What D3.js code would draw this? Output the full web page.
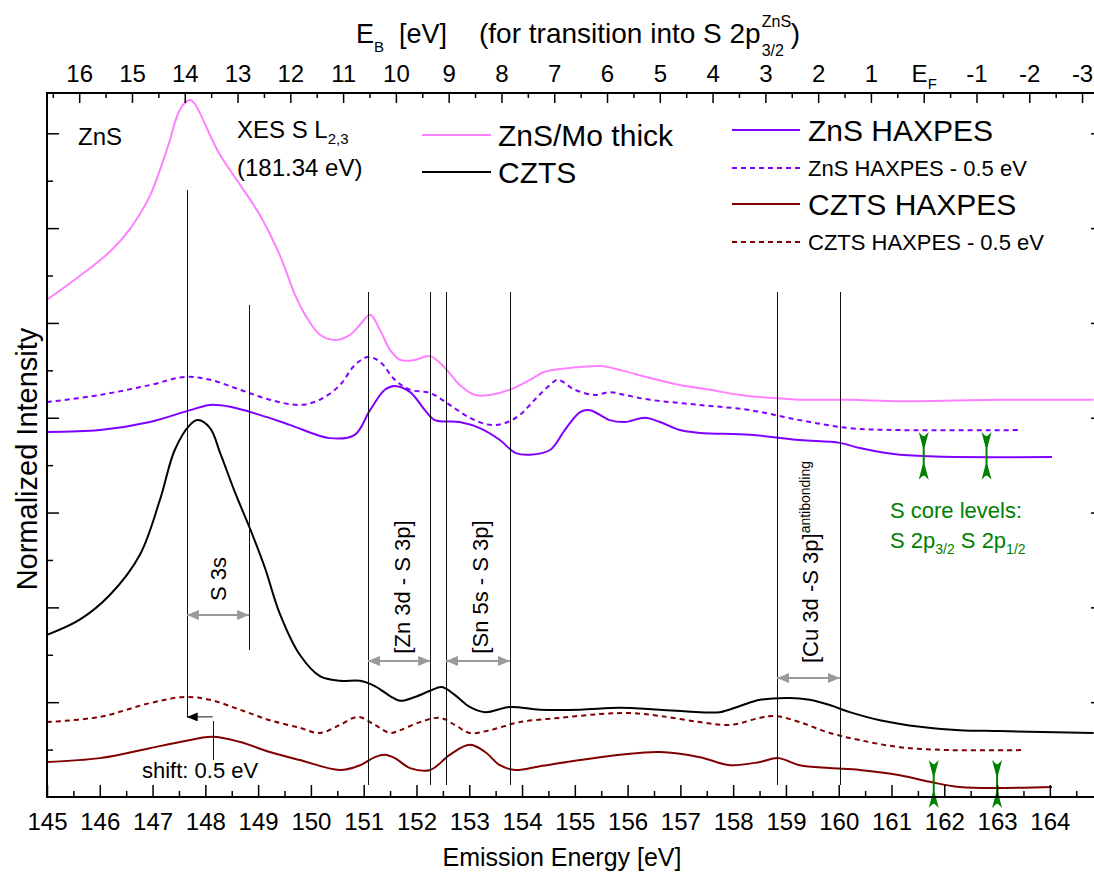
<!DOCTYPE html>
<html><head><meta charset="utf-8">
<script src="https://cdn.jsdelivr.net/npm/d3@7"></script>
<style>
body{margin:0;background:#fff}
svg{display:block}
text{font-family:"Liberation Sans",Arial,Helvetica,sans-serif;fill:#000}
</style>
</head><body>
<svg id="c" width="1094" height="873"></svg>
<script>
// ---------------- DATA ----------------
// [emission energy (eV), normalized intensity (arb., offset)]
const znsMoThick = [[145.00,10.49],[145.62,10.99],[146.19,11.50],[146.57,11.98],[146.95,12.68],[147.14,13.23],[147.33,13.86],[147.42,14.22],[147.52,14.50],[147.61,14.64],[147.71,14.70],[147.80,14.62],[147.90,14.42],[148.09,13.96],[148.28,13.54],[148.66,12.91],[149.03,12.28],[149.41,11.43],[149.70,10.59],[149.89,10.17],[150.17,9.75],[150.46,9.64],[150.74,9.75],[150.93,9.96],[151.12,10.17],[151.31,9.85],[151.50,9.43],[151.69,9.22],[151.97,9.22],[152.26,9.30],[152.54,9.05],[152.82,8.69],[153.11,8.48],[153.39,8.48],[153.77,8.59],[154.15,8.80],[154.43,8.97],[154.91,9.05],[155.48,9.09],[155.85,9.01],[156.42,8.84],[156.99,8.69],[157.56,8.59],[158.13,8.48],[158.70,8.42],[159.26,8.38],[160.21,8.38],[161.16,8.35],[163.05,8.38],[164.83,8.38]];

const znsHaxpesShift = [[145.00,8.33],[146.00,8.48],[146.95,8.69],[147.61,8.86],[148.09,8.80],[148.66,8.59],[149.22,8.38],[149.79,8.27],[150.17,8.38],[150.55,8.69],[150.83,9.11],[151.08,9.28],[151.31,9.18],[151.59,8.80],[151.88,8.59],[152.26,8.52],[152.63,8.27],[153.01,8.00],[153.39,7.85],[153.68,7.89],[153.96,8.06],[154.24,8.38],[154.53,8.69],[154.68,8.80],[155.00,8.59],[155.38,8.48],[155.66,8.54],[155.95,8.48],[156.42,8.38],[157.37,8.27],[158.32,8.16],[159.26,7.95],[160.21,7.78],[161.16,7.74],[163.43,7.74]];

const znsHaxpes = [[145.00,7.70],[146.00,7.74],[146.95,7.91],[147.71,8.16],[148.09,8.27],[148.47,8.23],[149.03,8.06],[149.60,7.85],[150.36,7.57],[150.83,7.64],[151.12,8.16],[151.40,8.59],[151.59,8.67],[151.88,8.54],[152.16,8.16],[152.35,7.95],[152.82,7.91],[153.20,7.78],[153.58,7.53],[153.87,7.26],[154.15,7.22],[154.53,7.32],[154.81,7.74],[155.10,8.12],[155.29,8.16],[155.66,7.95],[155.95,7.91],[156.33,8.00],[156.61,7.91],[156.99,7.74],[157.37,7.68],[158.32,7.64],[159.26,7.53],[160.02,7.47],[160.40,7.36],[161.16,7.22],[164.04,7.17]];

const czts = [[145.00,3.42],[145.62,3.74],[146.19,4.26],[146.76,5.11],[147.14,6.27],[147.42,7.32],[147.71,7.85],[147.86,7.95],[148.09,7.78],[148.28,7.26],[148.56,6.43],[148.85,5.65],[149.13,4.83],[149.41,3.87],[149.79,3.00],[150.17,2.55],[150.55,2.45],[150.93,2.45],[151.21,2.34],[151.50,2.13],[151.69,2.03],[151.97,2.11],[152.26,2.24],[152.48,2.32],[152.73,2.15],[153.01,1.90],[153.30,1.79],[153.77,1.90],[154.34,1.84],[155.10,1.84],[155.85,1.88],[156.61,1.84],[157.37,1.79],[157.75,1.79],[158.13,1.92],[158.51,2.05],[159.07,2.09],[159.45,2.05],[159.83,1.94],[160.21,1.79],[160.78,1.62],[161.54,1.48],[162.29,1.41],[163.05,1.39],[164.83,1.35]];

const cztsHaxpesShift = [[145.00,1.58],[146.00,1.69],[146.95,1.98],[147.61,2.11],[148.09,2.05],[148.66,1.84],[149.22,1.62],[149.79,1.46],[150.17,1.35],[150.55,1.52],[150.89,1.69],[151.21,1.52],[151.50,1.35],[151.69,1.41],[152.07,1.58],[152.44,1.67],[152.73,1.52],[153.01,1.35],[153.39,1.41],[153.96,1.58],[154.72,1.67],[155.48,1.75],[156.04,1.77],[156.61,1.71],[157.37,1.58],[157.94,1.52],[158.51,1.67],[158.79,1.71],[159.26,1.58],[159.83,1.35],[160.40,1.20],[161.16,1.05],[162.11,0.99],[163.53,0.99]];

const cztsHaxpes = [[145.00,0.74],[146.00,0.82],[146.95,1.03],[147.52,1.16],[148.14,1.27],[148.66,1.16],[149.22,0.95],[149.79,0.78],[150.55,0.57],[150.93,0.67],[151.21,0.84],[151.40,0.89],[151.59,0.82],[151.88,0.61],[152.26,0.57],[152.63,0.89],[153.01,1.10],[153.30,0.95],[153.58,0.67],[153.87,0.57],[154.34,0.65],[155.10,0.78],[155.85,0.89],[156.61,0.95],[157.37,0.84],[157.94,0.67],[158.51,0.74],[158.85,0.82],[159.26,0.67],[159.83,0.61],[160.40,0.57],[161.16,0.46],[161.73,0.32],[162.29,0.21],[164.04,0.21]];

const seriesNames = ["ZnS/Mo thick","CZTS","ZnS HAXPES","ZnS HAXPES - 0.5 eV","CZTS HAXPES","CZTS HAXPES - 0.5 eV"];

const bottomTicks = [145,146,147,148,149,150,151,152,153,154,155,156,157,158,159,160,161,162,163,164];
const topTicks = [16,15,14,13,12,11,10,9,8,7,6,5,4,3,2,1,0,-1,-2,-3];
const EB_REF = 161.61; // S 2p3/2 (ZnS) emission energy that maps to E_B = 0 (E_F)

// marker lines (emission energy) and their intensity extents
const featureLines = [[147.65,12.81,1.69],[148.83,10.38,3.10],[151.08,10.65,0.25],[152.26,10.65,0.25],[152.56,10.65,0.25],[153.77,10.65,0.25],[158.83,10.65,0.25],[160.02,10.65,0.25]];
const bracketArrows = [[147.65,148.83,3.84],[151.08,152.26,2.87],[152.56,153.77,2.87],[158.83,160.02,2.51]];
const shiftArrow = [148.14,147.65,1.69,0.78]; // from, to, y, bottom of tick
const coreLevelsZnS = [161.61,162.80];
const coreLevelsCZTS = [161.80,163.00];

// ---------------- CHART ----------------
const svg = d3.select("#c");
const m = {l:47, r:1100, t:93, b:797};
const x = d3.scaleLinear().domain([145,164.95]).range([m.l,m.r]);
const y = d3.scaleLinear().domain([0,14.85]).range([m.b,m.t]);
const xB = d3.scaleLinear().domain([EB_REF-145, EB_REF-164.95]).range([m.l,m.r]);

const FONT = '"Liberation Sans",Arial,Helvetica,sans-serif';
const PINK="#ff80ff", PURPLE="#8000ff", DRED="#800000", GREEN="#008000", GRAY="#9a9a9a";

const defs = svg.append("defs");
defs.append("marker").attr("id","ga").attr("viewBox","0 0 12 10").attr("refX",12).attr("refY",5)
  .attr("markerWidth",12).attr("markerHeight",10).attr("markerUnits","userSpaceOnUse").attr("orient","auto-start-reverse")
  .append("path").attr("d","M0,0L12,5L0,10Z").attr("fill",GRAY);
defs.append("marker").attr("id","ba").attr("viewBox","0 0 12 10").attr("refX",12).attr("refY",5)
  .attr("markerWidth",12).attr("markerHeight",9).attr("markerUnits","userSpaceOnUse").attr("orient","auto")
  .append("path").attr("d","M0,0L12,5L0,10Z").attr("fill","#000");

// series
const styles = [
  {data:znsMoThick, color:PINK, dash:null},
  {data:czts, color:"#000", dash:null},
  {data:znsHaxpes, color:PURPLE, dash:null},
  {data:znsHaxpesShift, color:PURPLE, dash:"5,4"},
  {data:cztsHaxpes, color:DRED, dash:null},
  {data:cztsHaxpesShift, color:DRED, dash:"5,4"}
];
const line = d3.line().x(d=>x(d[0])).y(d=>y(d[1])).curve(d3.curveCatmullRom.alpha(0.5));
const gLines = svg.append("g");
styles.forEach(s=>{
  gLines.append("path").datum(s.data).attr("d",line).attr("fill","none")
    .attr("stroke",s.color).attr("stroke-width",2).attr("stroke-dasharray",s.dash);
});

// feature vertical lines
svg.append("g").attr("shape-rendering","crispEdges").selectAll("line").data(featureLines).join("line")
  .attr("x1",d=>Math.round(x(d[0]))+0.5).attr("x2",d=>Math.round(x(d[0]))+0.5).attr("y1",d=>y(d[1])).attr("y2",d=>y(d[2]))
  .attr("stroke","#111").attr("stroke-width",1);

// gray double arrows
svg.append("g").selectAll("line").data(bracketArrows).join("line")
  .attr("x1",d=>x(d[0])).attr("x2",d=>x(d[1])).attr("y1",d=>y(d[2])).attr("y2",d=>y(d[2]))
  .attr("stroke",GRAY).attr("stroke-width",2)
  .attr("marker-start","url(#ga)").attr("marker-end","url(#ga)");

// shift arrow
svg.append("line").attr("x1",Math.round(x(shiftArrow[0]))+0.5).attr("x2",Math.round(x(shiftArrow[0]))+0.5).attr("y1",y(shiftArrow[2])+4).attr("y2",y(shiftArrow[3]))
  .attr("stroke","#111").attr("stroke-width",1).attr("shape-rendering","crispEdges");
svg.append("line").attr("x1",x(shiftArrow[0])).attr("x2",x(shiftArrow[1])).attr("y1",y(shiftArrow[2])).attr("y2",y(shiftArrow[2]))
  .attr("stroke","#111").attr("stroke-width",1).attr("marker-end","url(#ba)");

// core level markers
function coreMarker(e, iTop, iBot){
  const xc=x(e), y0=y(iTop), y1=y(iBot);
  const g=svg.append("g").attr("fill",GREEN).attr("stroke","none");
  g.append("line").attr("x1",xc).attr("x2",xc).attr("y1",y0+4).attr("y2",y1-4).attr("stroke",GREEN).attr("stroke-width",2);
  g.append("path").attr("d",`M${xc-5},${y0}L${xc},${y0+5}L${xc+5},${y0}L${xc+1},${y0+15}L${xc-1},${y0+15}Z`);
  g.append("path").attr("d",`M${xc-5},${y1}L${xc},${y1-5}L${xc+5},${y1}L${xc+1},${y1-15}L${xc-1},${y1-15}Z`);
}
coreLevelsZnS.forEach(e=>coreMarker(e,7.70,6.69));
coreLevelsCZTS.forEach(e=>coreMarker(e,0.78,-0.23));

// ---------------- AXES ----------------
const fmt = d=>String(d);
function styleAxis(g){
  g.attr("font-family",FONT);
  g.selectAll(".tick line").attr("stroke","#000").attr("stroke-width",1.5);
}
// bottom
const gb = svg.append("g").attr("transform",`translate(0,${m.b})`)
  .call(d3.axisBottom(x).tickValues(bottomTicks).tickSizeInner(-12).tickSizeOuter(0).tickPadding(16).tickFormat(fmt));
styleAxis(gb); gb.attr("font-size",24); gb.select(".domain").remove();
const gbm = svg.append("g").attr("transform",`translate(0,${m.b})`)
  .call(d3.axisBottom(x).tickValues(bottomTicks.map(v=>v+0.5)).tickSize(-6).tickFormat(""));
styleAxis(gbm); gbm.select(".domain").remove();

// top
const gt = svg.append("g").attr("transform",`translate(0,${m.t})`)
  .call(d3.axisTop(xB).tickValues(topTicks).tickSizeInner(-10).tickSizeOuter(0).tickPadding(11).tickFormat(fmt));
styleAxis(gt); gt.attr("font-size",24); gt.select(".domain").remove();
gt.selectAll(".tick text").filter(d=>d===0).text("E").append("tspan").attr("font-size",15).attr("dy",7).text("F");
const gtm = svg.append("g").attr("transform",`translate(0,${m.t})`)
  .call(d3.axisTop(xB).tickValues(topTicks.map(v=>v+0.5)).tickSize(-5).tickFormat(""));
styleAxis(gtm); gtm.select(".domain").remove();

// left / right
const yMajor=[2,4,6,8,10,12,14], yMinor=[1,3,5,7,9,11,13];
[[d3.axisLeft,m.l,12,6],[d3.axisRight,m.r,9,5]].forEach(([ax,pos,L,S])=>{
  const g1=svg.append("g").attr("transform",`translate(${pos},0)`).call(ax(y).tickValues(yMajor).tickSize(-L).tickFormat(""));
  styleAxis(g1); g1.select(".domain").remove();
  const g2=svg.append("g").attr("transform",`translate(${pos},0)`).call(ax(y).tickValues(yMinor).tickSize(-S).tickFormat(""));
  styleAxis(g2); g2.select(".domain").remove();
});
// frame
svg.append("rect").attr("x",m.l).attr("y",m.t).attr("width",m.r-m.l).attr("height",m.b-m.t)
  .attr("fill","none").attr("stroke","#000").attr("stroke-width",2);

// ---------------- TEXT ----------------
function txt(xp, yp, s, size, opt={}){
  const t = svg.append("text").attr("x",xp).attr("y",yp).attr("font-size",size).text(s);
  if(opt.anchor) t.attr("text-anchor",opt.anchor);
  if(opt.fill) t.style("fill",opt.fill);
  return t;
}
// axis titles
txt(562,866,"Emission Energy [eV]",25,{anchor:"middle"});
svg.append("text").attr("transform","translate(37,459) rotate(-90)").attr("text-anchor","middle")
  .attr("font-size",29).text("Normalized Intensity");

// top title
txt(356,43,"E",27);
txt(374,52,"B",15);
txt(399,43,"[eV]",27);
const tt = txt(479,43,"(for transition into S 2p",28);
const tw = tt.node().getComputedTextLength();
txt(479+tw+1,27,"ZnS",16);
txt(479+tw+1,56,"3/2",16);
txt(479+tw+30,43,")",28);

// legend
const legL = [[0,135],[1,172]], legR=[[2,130,30],[3,168,22],[4,204,30],[5,242,22]];
legL.forEach(([i,yy])=>{
  svg.append("line").attr("x1",422).attr("x2",491).attr("y1",yy).attr("y2",yy)
    .attr("stroke",styles[i].color).attr("stroke-width",2).attr("stroke-dasharray",styles[i].dash);
  txt(498,yy+11,seriesNames[i],30);
});
legR.forEach(([i,yy,fs])=>{
  svg.append("line").attr("x1",732).attr("x2",800).attr("y1",yy).attr("y2",yy)
    .attr("stroke",styles[i].color).attr("stroke-width",2).attr("stroke-dasharray",styles[i].dash);
  txt(808,yy+fs*0.36,seriesNames[i],fs);
});

// annotations
txt(78,145,"ZnS",24);
const xes = txt(237,138,"XES S L",24);
xes.append("tspan").attr("font-size",15).attr("dy",6).text("2,3");
txt(237,176,"(181.34 eV)",24);
txt(142,778,"shift: 0.5 eV",22);

function rot(xp, yp, s, size, anchor){
  return svg.append("text").attr("transform",`translate(${xp},${yp}) rotate(-90)`)
    .attr("text-anchor",anchor).attr("font-size",size).text(s);
}
rot(226,579,"S 3s",22,"middle");
rot(410,587,"[Zn 3d - S 3p]",22,"middle");
rot(488,587,"[Sn 5s - S 3p]",22,"middle");
const cu = rot(818,663,"[Cu 3d -S 3p]",22,"start");
cu.append("tspan").attr("font-size",14).attr("dy",-8).text("antibonding");

// green core level text
txt(890,518,"S core levels:",22,{fill:GREEN});
const cl = txt(890,548,"S 2p",22,{fill:GREEN});
cl.append("tspan").attr("font-size",14).attr("dy",6).text("3/2");
cl.append("tspan").attr("dy",-6).text(" S 2p");
cl.append("tspan").attr("font-size",14).attr("dy",6).text("1/2");
</script>
</body></html>
